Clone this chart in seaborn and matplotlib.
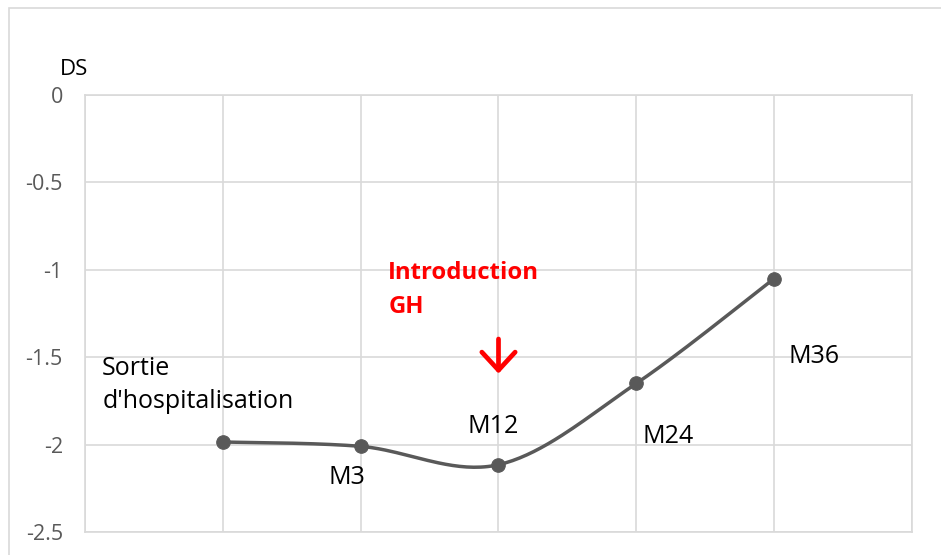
import numpy as np
import pandas as pd
import matplotlib.pyplot as plt
import seaborn as sns
from matplotlib.patches import Rectangle

# Data
visits = [1, 2, 3, 4, 5]
ds_values = [-1.985, -2.01, -2.115, -1.65, -1.05]
point_labels = ["Sortie\nd'hospitalisation", "M3", "M12", "M24", "M36"]
label_offsets = [(-25, 57), (-14, -31), (-5, 38), (32, -53), (40, -78)]  # pixels
y_ticks = [0, -0.5, -1, -1.5, -2, -2.5]

df = pd.DataFrame({'visit': visits, 'ds': ds_values})

sns.set_style('white')
plt.rcParams['font.family'] = ['Open Sans', 'DejaVu Sans']

W, H = 941, 555
fig = plt.figure(figsize=(W / 100, H / 100), dpi=100)
ax = fig.add_axes([85 / W, 1 - 532 / H, (912 - 85) / W, (532 - 95) / H])

# outer chart frame
fig.patches.append(Rectangle((9 / W, -0.1), 2, 1 - 8 / H + 0.1, transform=fig.transFigure,
                             fill=False, edgecolor='#d9d9d9', linewidth=1.2))


# smooth curve through the points (Excel-like cardinal spline)
def smooth(x, y, n=40):
    p = np.column_stack([x, y]).astype(float)
    p = np.vstack([p[0], p, p[-1]])
    out = []
    for i in range(1, len(p) - 2):
        p0, p1, p2, p3 = p[i - 1], p[i], p[i + 1], p[i + 2]
        c1 = p1 + (p2 - p0) / 6
        c2 = p2 - (p3 - p1) / 6
        t = np.linspace(0, 1, n)[:, None]
        out.append((1 - t) ** 3 * p1 + 3 * (1 - t) ** 2 * t * c1 + 3 * (1 - t) * t ** 2 * c2 + t ** 3 * p2)
    out = np.vstack(out)
    return out[:, 0], out[:, 1]


sx, sy = smooth(df['visit'], df['ds'])
ax.plot(sx, sy, color='#595959', linewidth=2.5, zorder=3)
sns.scatterplot(data=df, x='visit', y='ds', ax=ax, color='#595959', s=95,
                edgecolor='#595959', zorder=4, legend=False)

for xv, yv, lab, off in zip(visits, ds_values, point_labels, label_offsets):
    ax.annotate(lab, (xv, yv), xytext=off, textcoords='offset pixels',
                ha='center', va='center', multialignment='left', fontsize=18,
                color='black', linespacing=1.45)

ax.text(2.2, -0.95, 'Introduction\nGH', color='#ff0000', fontsize=17.2,
        fontweight='bold', ha='left', va='top', linespacing=1.55)
ax.annotate('', xy=(3, -1.61), xytext=(3, -1.38),
            arrowprops=dict(arrowstyle='->,head_width=0.6,head_length=0.65',
                            mutation_scale=20, color='#ff0000', lw=3.4))

ax.set_xlim(0, 6)
ax.set_ylim(-2.5, 0)
ax.set_xticks(range(0, 7))
ax.set_xticklabels([])
ax.set_yticks(y_ticks)
ax.set_yticklabels([f'{v:g}' for v in y_ticks])
ax.tick_params(axis='y', length=0, pad=16, labelsize=15.5, labelcolor='#595959')
ax.tick_params(axis='x', length=0)
ax.grid(True, color='#d9d9d9', linewidth=1.2)
for side in ['top', 'right', 'left', 'bottom']:
    ax.spines[side].set_visible(True)
    ax.spines[side].set_color('#d9d9d9')
    ax.spines[side].set_linewidth(1.2)
ax.set_xlabel('')
ax.set_ylabel('')

fig.text(74 / W, 1 - 69 / H, 'DS', ha='center', va='center', fontsize=16, color='black')

fig.savefig('out.png', dpi=100, facecolor='white')
